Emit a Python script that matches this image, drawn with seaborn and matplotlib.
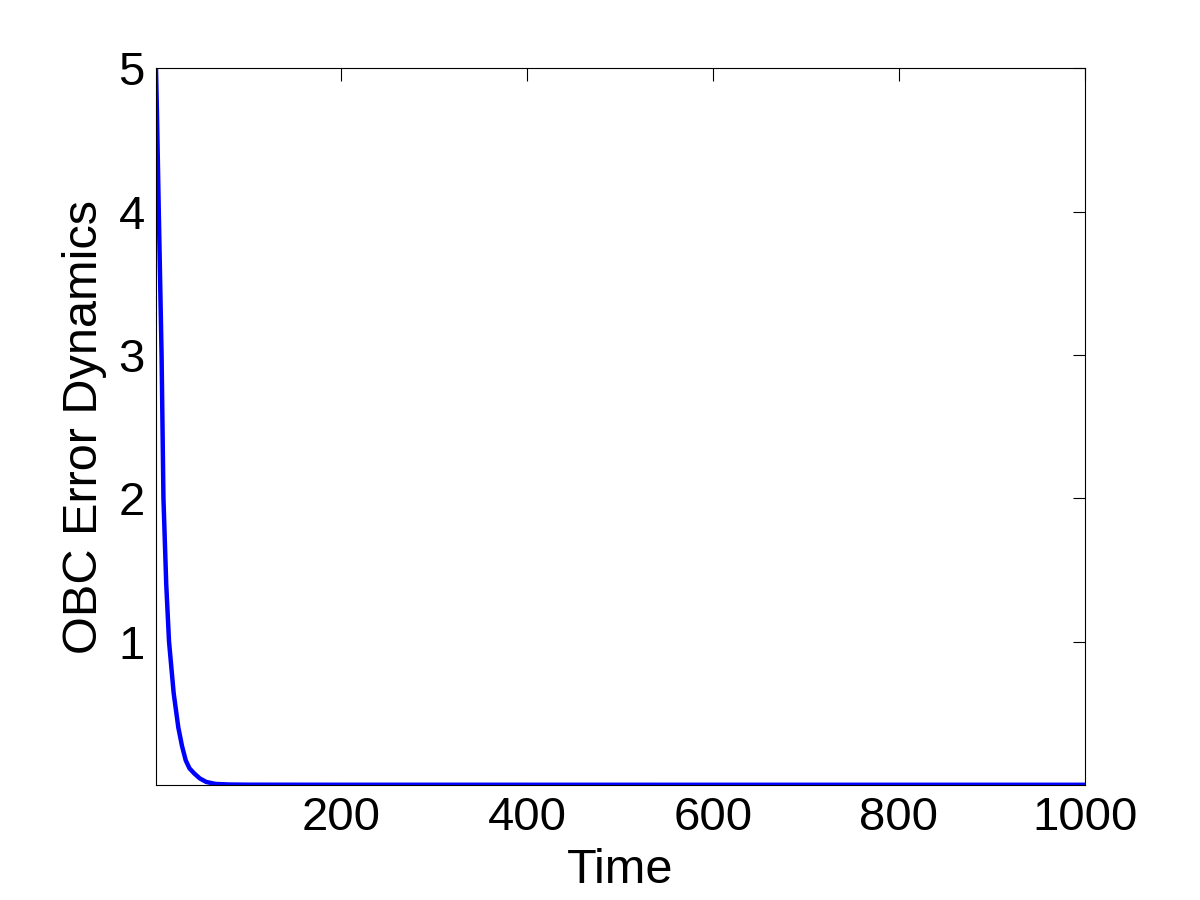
import numpy as np
import pandas as pd
import seaborn as sns
import matplotlib
matplotlib.use("Agg")
import matplotlib.pyplot as plt

# values
time = [1, 2, 4, 7, 9, 12, 15, 20, 25, 29, 33, 37, 42, 48, 55, 65, 80, 100, 200, 400, 600, 800, 1000]
error = [5.0, 4.7, 4.0, 3.0, 2.0, 1.4, 1.0, 0.64, 0.40, 0.27, 0.17, 0.115, 0.08, 0.045, 0.02, 0.006, 0.002, 0.0008, 0.0003, 0.0002, 0.0001, 0.0001, 0.0001]
xticks = [200, 400, 600, 800, 1000]
yticks = [1, 2, 3, 4, 5]

df = pd.DataFrame({"Time": time, "OBC Error Dynamics": error})

sns.set_style("white")
plt.rcParams['font.family'] = ['Liberation Sans', 'DejaVu Sans']

fig = plt.figure(figsize=(12, 9), dpi=100)
ax = fig.add_axes([0.13, 0.128, 0.774, 0.796])
sns.lineplot(data=df, x="Time", y="OBC Error Dynamics", color="#0000ff", linewidth=3.2, ax=ax)

ax.set_xlim(1, 1000)
ax.set_ylim(0, 5)
ax.set_xticks(xticks)
ax.set_yticks(yticks)
ax.tick_params(direction="in", length=9, width=0.8, labelsize=34, top=True, right=True,
               colors="black", pad=8)
for s in ax.spines.values():
    s.set_visible(True)
    s.set_color("black")
    s.set_linewidth(0.8)
ax.set_xlabel("Time", fontsize=35, labelpad=6, color="black")
ax.set_ylabel("OBC Error Dynamics", fontsize=35, labelpad=8, color="black")

fig.savefig("out.png", dpi=100, facecolor="white")
